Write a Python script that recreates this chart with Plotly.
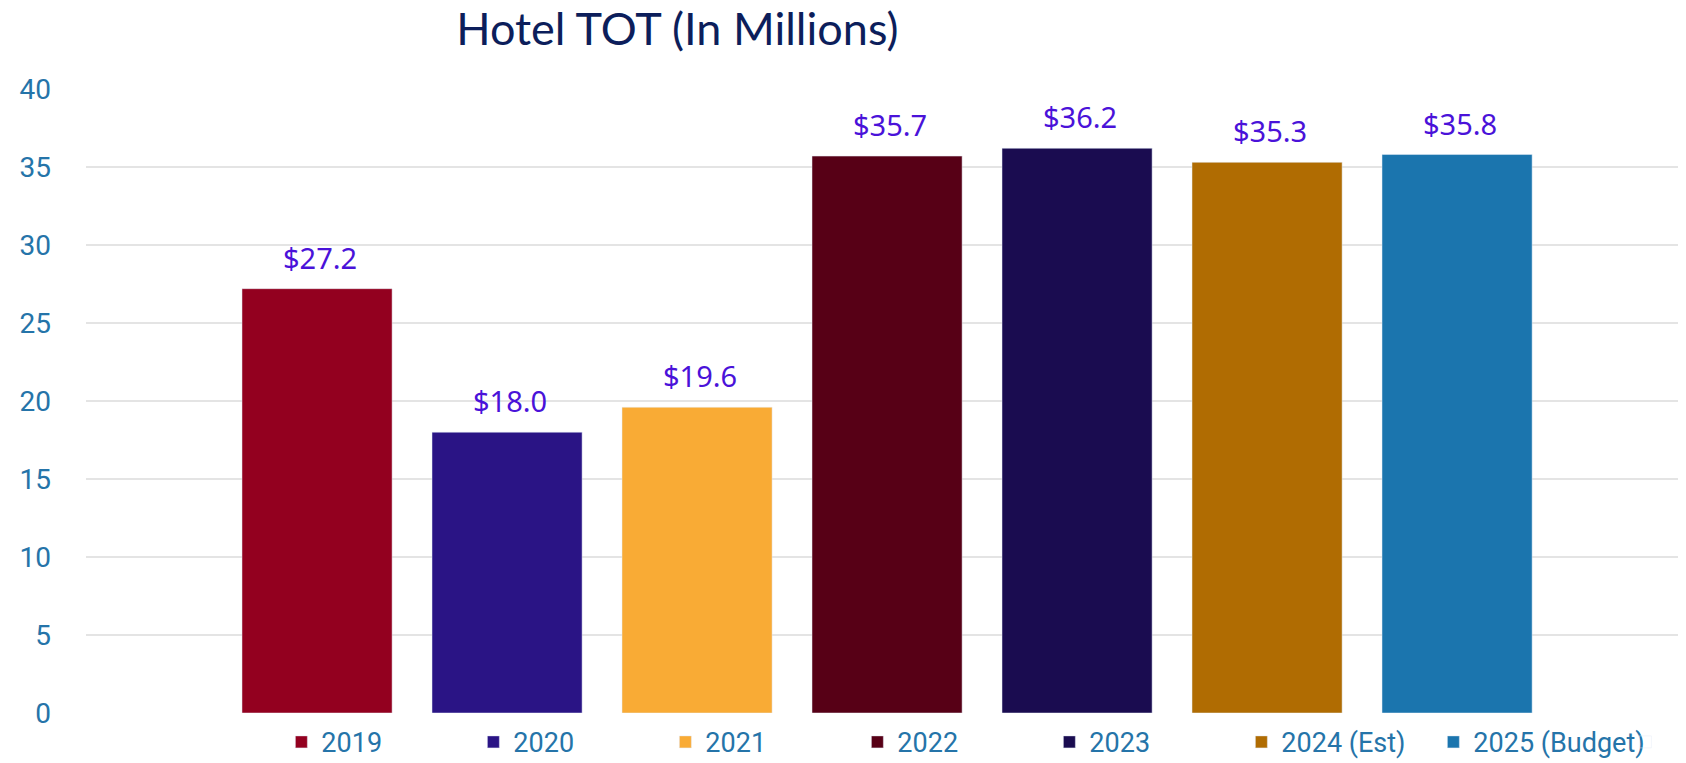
import plotly.graph_objects as go

years = ["2019", "2020", "2021", "2022", "2023", "2024 (Est)", "2025 (Budget)"]
values = [27.2, 18.0, 19.6, 35.7, 36.2, 35.3, 35.8]
labels = ["$27.2", "$18.0", "$19.6", "$35.7", "$36.2", "$35.3", "$35.8"]
colors = ["#93001F", "#2A1485", "#F9AB35", "#570016", "#1A0C50", "#B06C02", "#1B75AE"]
y_ticks = [0, 5, 10, 15, 20, 25, 30, 35, 40]

fig = go.Figure()
for i, (yr, v, c) in enumerate(zip(years, values, colors)):
    fig.add_trace(go.Bar(x=[i], y=[v], name=yr, marker_color=c, width=0.79,
                         hoverinfo="skip"))
    fig.add_annotation(x=i, y=v, text=labels[i], showarrow=False,
                       yanchor="bottom", yshift=10, xshift=3,
                       font=dict(family="Noto Sans", size=29, color="#4A12D9"))

# invisible spacer entry so the last legend label is not clipped
fig.add_trace(go.Bar(x=[None], y=[None], name=" ", marker_color="rgba(0,0,0,0)",
                     hoverinfo="skip"))

fig.update_layout(
    width=1686, height=763,
    margin=dict(l=78, r=0, t=81, b=58, autoexpand=False),
    plot_bgcolor="white", paper_bgcolor="white",
    barmode="overlay",
    title=dict(text="Hotel TOT (In Millions)", xref="container", yref="container",
               x=0.397, y=0.993, xanchor="center", yanchor="top",
               pad=dict(t=0, b=0, l=0, r=0),
               font=dict(family="Lato", size=45, color="#0C1E5B")),
    xaxis=dict(range=[-1.216, 7.247], showticklabels=False, showgrid=False,
               zeroline=False, showline=False, fixedrange=True),
    yaxis=dict(range=[0, 40], tickvals=y_ticks, showgrid=True, gridcolor="#E4E4E4",
               gridwidth=2, zeroline=False, showline=False,
               tickfont=dict(family="Roboto", size=28, color="#2574A9"),
               ticklabelstandoff=34),
    legend=dict(orientation="h", x=0.1215, xanchor="left", y=-0.047, yanchor="middle",
                entrywidth=147, entrywidthmode="pixels", traceorder="normal",
                font=dict(family="Roboto", size=27, color="#2574A9"),
                itemclick=False, itemdoubleclick=False),
    showlegend=True,
)

fig.write_html("out.html")
